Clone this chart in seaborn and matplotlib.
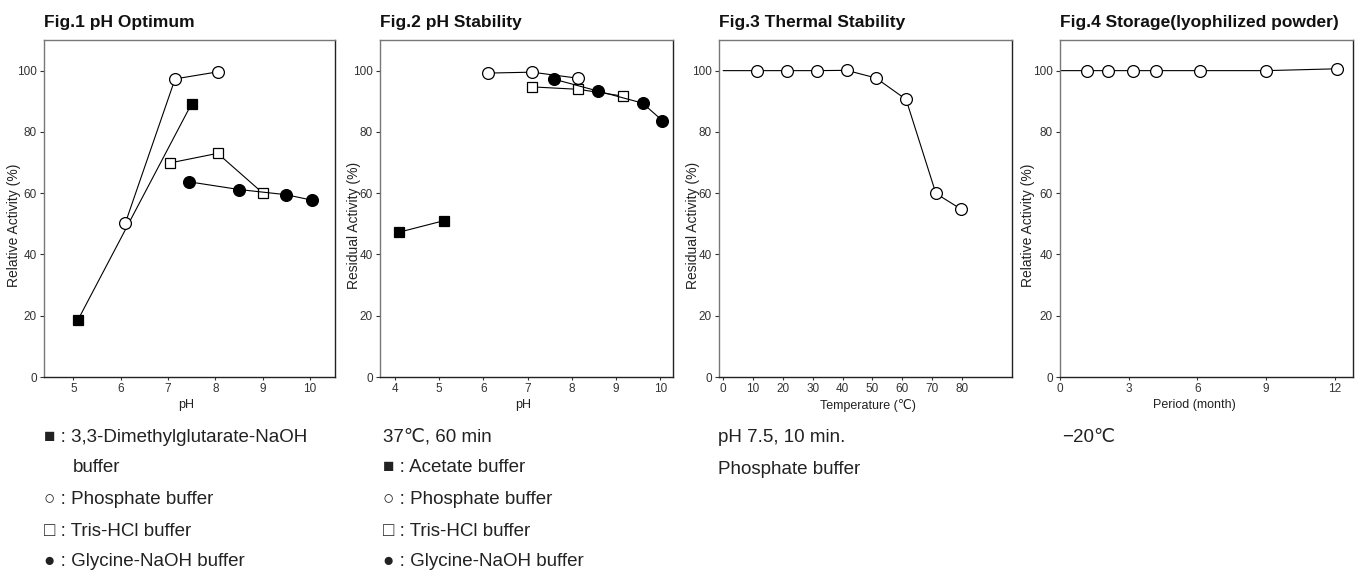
import matplotlib
matplotlib.use('Agg')
import matplotlib.pyplot as plt
import seaborn as sns

sns.set_style('ticks')
plt.rcParams['font.family'] = ['Liberation Sans', 'DejaVu Sans']

# Fig.1 pH optimum
opt_dmg_ph = [5.1, 7.5]
opt_dmg_act = [18.7, 89.2]
opt_phos_ph = [6.1, 7.15, 8.05]
opt_phos_act = [50.3, 97.3, 99.6]
opt_tris_ph = [7.05, 8.05, 9.0]
opt_tris_act = [69.9, 73.0, 60.1]
opt_gly_ph = [7.45, 8.5, 9.5, 10.05]
opt_gly_act = [63.7, 61.2, 59.5, 57.7]

# Fig.2 pH stability
stab_acet_ph = [4.1, 5.1]
stab_acet_act = [47.3, 51.0]
stab_phos_ph = [6.1, 7.1, 8.15]
stab_phos_act = [99.2, 99.5, 97.5]
stab_tris_ph = [7.1, 8.15, 9.15]
stab_tris_act = [94.7, 93.9, 91.7]
stab_gly_ph = [7.6, 8.6, 9.6, 10.05]
stab_gly_act = [97.2, 93.3, 89.4, 83.7]

# Fig.3 thermal stability (first point = reference, no marker)
temp_c = [0, 11.5, 21.5, 31.3, 41.4, 51.2, 61.3, 71.3, 79.7]
temp_act = [100, 100, 100, 100, 100.1, 97.6, 90.6, 59.9, 54.8]

# Fig.4 storage (first point = reference, no marker)
store_month = [0, 1.2, 2.1, 3.2, 4.2, 6.1, 9.0, 12.1]
store_act = [100, 100, 100, 100, 100, 100, 100, 100.6]

W, H = 1356, 570
fig = plt.figure(figsize=(W / 100, H / 100), dpi=100)

def make_ax(left, right, top=40, bottom=377):
    return fig.add_axes([left / W, 1 - bottom / H, (right - left) / W, (bottom - top) / H])

def series(ax, x, y, marker, filled, ms, markevery=None):
    sns.lineplot(x=x, y=y, ax=ax, color='black', linewidth=0.8, sort=False,
                 estimator=None, marker=marker, markersize=ms,
                 markerfacecolor='black' if filled else 'white',
                 markeredgecolor='black', markeredgewidth=0.9,
                 markevery=markevery)

def style(ax, title, xlim, xticks, xlabel, ylabel, ylab_x, xlab_x=0.5):
    ax.set_xlim(*xlim)
    ax.set_ylim(0, 110)
    ax.set_xticks(xticks)
    ax.set_yticks([0, 20, 40, 60, 80, 100])
    ax.tick_params(axis='both', direction='out', width=0.8, labelsize=8.5,
                   colors='#333333', pad=2)
    ax.tick_params(axis='x', length=2.5)
    ax.tick_params(axis='y', length=3)
    for side in ['left', 'top']:
        ax.spines[side].set_color('#777777')
    for side in ['bottom', 'right']:
        ax.spines[side].set_color('#222222')
    for sp in ax.spines.values():
        sp.set_linewidth(1.0)
    ax.set_xlabel(xlabel, fontsize=9, color='#222222')
    ax.set_ylabel(ylabel, fontsize=10, color='#222222')
    ax.yaxis.set_label_coords(ylab_x, 0.45)
    ax.xaxis.set_label_coords(xlab_x, -0.066)
    ax.set_title(title, loc='left', fontsize=12.5, fontweight='bold', pad=9,
                 color='#111111')

ax1 = make_ax(44, 335)
series(ax1, opt_dmg_ph, opt_dmg_act, 's', True, 7)
series(ax1, opt_phos_ph, opt_phos_act, 'o', False, 8.5)
series(ax1, opt_tris_ph, opt_tris_act, 's', False, 7)
series(ax1, opt_gly_ph, opt_gly_act, 'o', True, 8.5)
style(ax1, 'Fig.1 pH Optimum', (4.38, 10.53), range(5, 11), 'pH',
      'Relative Activity (%)', -0.079, 0.49)

ax2 = make_ax(380, 673)
series(ax2, stab_acet_ph, stab_acet_act, 's', True, 7)
series(ax2, stab_phos_ph, stab_phos_act, 'o', False, 8.5)
series(ax2, stab_tris_ph, stab_tris_act, 's', False, 7)
series(ax2, stab_gly_ph, stab_gly_act, 'o', True, 8.5)
style(ax2, 'Fig.2 pH Stability', (3.66, 10.29), range(4, 11), 'pH',
      'Residual Activity (%)', -0.065, 0.49)

ax3 = make_ax(719, 1012)
series(ax3, temp_c, temp_act, 'o', False, 8.5, markevery=list(range(1, len(temp_c))))
style(ax3, 'Fig.3 Thermal Stability', (-1.4, 96.8), range(0, 81, 10),
      'Temperature (\u2103)', 'Residual Activity (%)', -0.065, 0.507)

ax4 = make_ax(1060, 1353)
series(ax4, store_month, store_act, 'o', False, 8.5, markevery=list(range(1, len(store_month))))
style(ax4, 'Fig.4 Storage(lyophilized powder)', (0, 12.8), [0, 3, 6, 9, 12],
      'Period (month)', 'Relative Activity (%)', -0.085, 0.46)

# notes under the panels
def note(x, y, s):
    fig.text(x / W, 1 - y / H, s, fontsize=13.5, color='#222222', va='center', ha='left')

note(44, 437, '\u25a0 : 3,3-Dimethylglutarate-NaOH')
note(73, 468, 'buffer')
note(44, 500, '\u25cb : Phosphate buffer')
note(44, 531, '\u25a1 : Tris-HCl buffer')
note(44, 561, '\u25cf : Glycine-NaOH buffer')

note(383, 437, '37\u2103, 60 min')
note(383, 468, '\u25a0 : Acetate buffer')
note(383, 500, '\u25cb : Phosphate buffer')
note(383, 531, '\u25a1 : Tris-HCl buffer')
note(383, 562, '\u25cf : Glycine-NaOH buffer')

note(718, 437, 'pH 7.5, 10 min.')
note(718, 469, 'Phosphate buffer')

note(1062, 437, '\u221220\u2103')

fig.savefig('out.png', dpi=100)
